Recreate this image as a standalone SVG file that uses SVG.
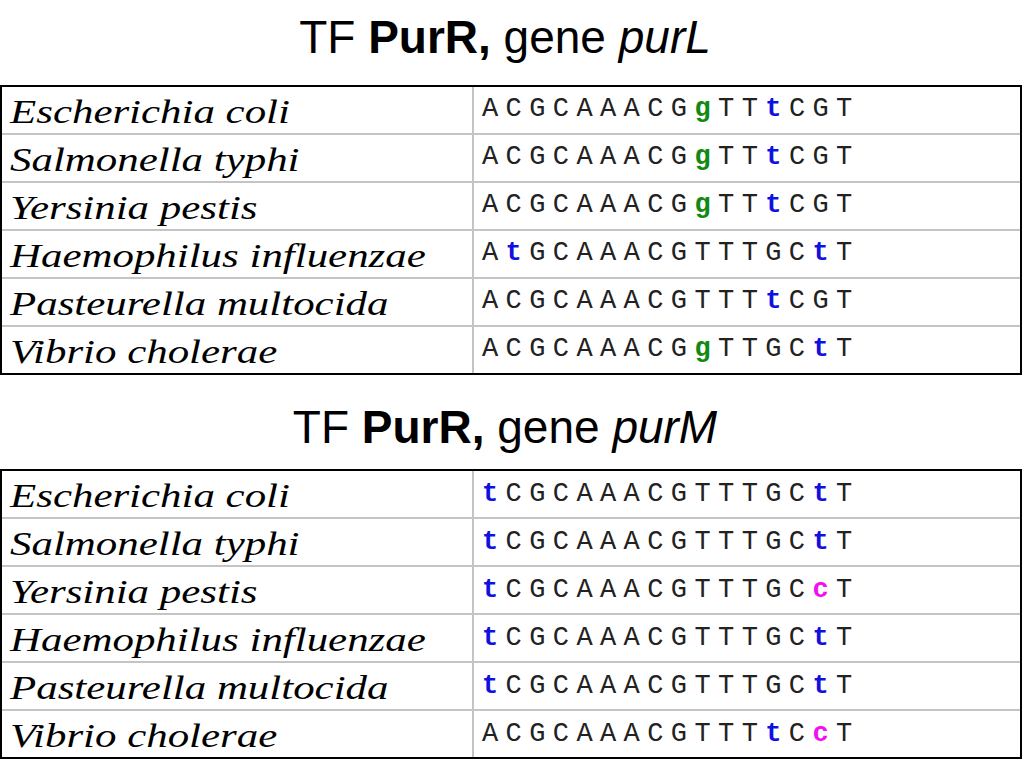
<svg xmlns="http://www.w3.org/2000/svg" width="1024" height="768" viewBox="0 0 1024 768">
<style>
.title{font-family:"Liberation Sans",Arial,sans-serif;font-size:46px;fill:#000}
.sp{font-family:"Liberation Serif","Times New Roman",serif;font-style:italic;font-size:33px;fill:#000}
.seq{font-family:"Liberation Mono","Courier New",monospace;font-size:27px;letter-spacing:7.4px;fill:#222}
.g{fill:#108a10;font-weight:bold}
.t{fill:#1010e0;font-weight:bold}
.c{fill:#f010f0;font-weight:bold}
.grid{stroke:#c4c4c4;stroke-width:2;fill:none}
.frame{stroke:#000;stroke-width:2;fill:none}
</style>
<rect width="1024" height="768" fill="#fff"/>
<g id="title1"><text class="title" x="505" y="53" text-anchor="middle">TF <tspan font-weight="bold">PurR,</tspan> gene <tspan font-style="italic">purL</tspan></text></g>
<g id="title2"><text class="title" x="505" y="443" text-anchor="middle">TF <tspan font-weight="bold">PurR,</tspan> gene <tspan font-style="italic">purM</tspan></text></g>

<g id="table1-lines">
<path class="grid" d="M473 86V374M1 134H1021M1 182H1021M1 230H1021M1 278H1021M1 326H1021"/>
<rect class="frame" x="1" y="86" width="1020" height="288"/>
</g>
<g id="table2-lines">
<path class="grid" d="M473 470V758M1 518H1021M1 566H1021M1 614H1021M1 662H1021M1 710H1021"/>
<rect class="frame" x="1" y="470" width="1020" height="288"/>
</g>

<g id="table1">
<g id="t1r1"><text class="sp" transform="translate(10,123) scale(1.3,1)">Escherichia coli</text><text class="seq" x="482" y="116">ACGCAAACG<tspan class="g">g</tspan>TT<tspan class="t">t</tspan>CGT</text></g>
<g id="t1r2"><text class="sp" transform="translate(10,171) scale(1.3,1)">Salmonella typhi</text><text class="seq" x="482" y="164">ACGCAAACG<tspan class="g">g</tspan>TT<tspan class="t">t</tspan>CGT</text></g>
<g id="t1r3"><text class="sp" transform="translate(10,219) scale(1.3,1)">Yersinia pestis</text><text class="seq" x="482" y="212">ACGCAAACG<tspan class="g">g</tspan>TT<tspan class="t">t</tspan>CGT</text></g>
<g id="t1r4"><text class="sp" transform="translate(10,267) scale(1.3,1)">Haemophilus influenzae</text><text class="seq" x="482" y="260">A<tspan class="t">t</tspan>GCAAACGTTTGC<tspan class="t">t</tspan>T</text></g>
<g id="t1r5"><text class="sp" transform="translate(10,315) scale(1.3,1)">Pasteurella multocida</text><text class="seq" x="482" y="308">ACGCAAACGTTT<tspan class="t">t</tspan>CGT</text></g>
<g id="t1r6"><text class="sp" transform="translate(10,363) scale(1.3,1)">Vibrio cholerae</text><text class="seq" x="482" y="356">ACGCAAACG<tspan class="g">g</tspan>TTGC<tspan class="t">t</tspan>T</text></g>
</g>

<g id="table2">
<g id="t2r1"><text class="sp" transform="translate(10,507) scale(1.3,1)">Escherichia coli</text><text class="seq" x="482" y="501"><tspan class="t">t</tspan>CGCAAACGTTTGC<tspan class="t">t</tspan>T</text></g>
<g id="t2r2"><text class="sp" transform="translate(10,555) scale(1.3,1)">Salmonella typhi</text><text class="seq" x="482" y="549"><tspan class="t">t</tspan>CGCAAACGTTTGC<tspan class="t">t</tspan>T</text></g>
<g id="t2r3"><text class="sp" transform="translate(10,603) scale(1.3,1)">Yersinia pestis</text><text class="seq" x="482" y="597"><tspan class="t">t</tspan>CGCAAACGTTTGC<tspan class="c">c</tspan>T</text></g>
<g id="t2r4"><text class="sp" transform="translate(10,651) scale(1.3,1)">Haemophilus influenzae</text><text class="seq" x="482" y="645"><tspan class="t">t</tspan>CGCAAACGTTTGC<tspan class="t">t</tspan>T</text></g>
<g id="t2r5"><text class="sp" transform="translate(10,699) scale(1.3,1)">Pasteurella multocida</text><text class="seq" x="482" y="693"><tspan class="t">t</tspan>CGCAAACGTTTGC<tspan class="t">t</tspan>T</text></g>
<g id="t2r6"><text class="sp" transform="translate(10,747) scale(1.3,1)">Vibrio cholerae</text><text class="seq" x="482" y="741">ACGCAAACGTTT<tspan class="t">t</tspan>C<tspan class="c">c</tspan>T</text></g>
</g>
</svg>
